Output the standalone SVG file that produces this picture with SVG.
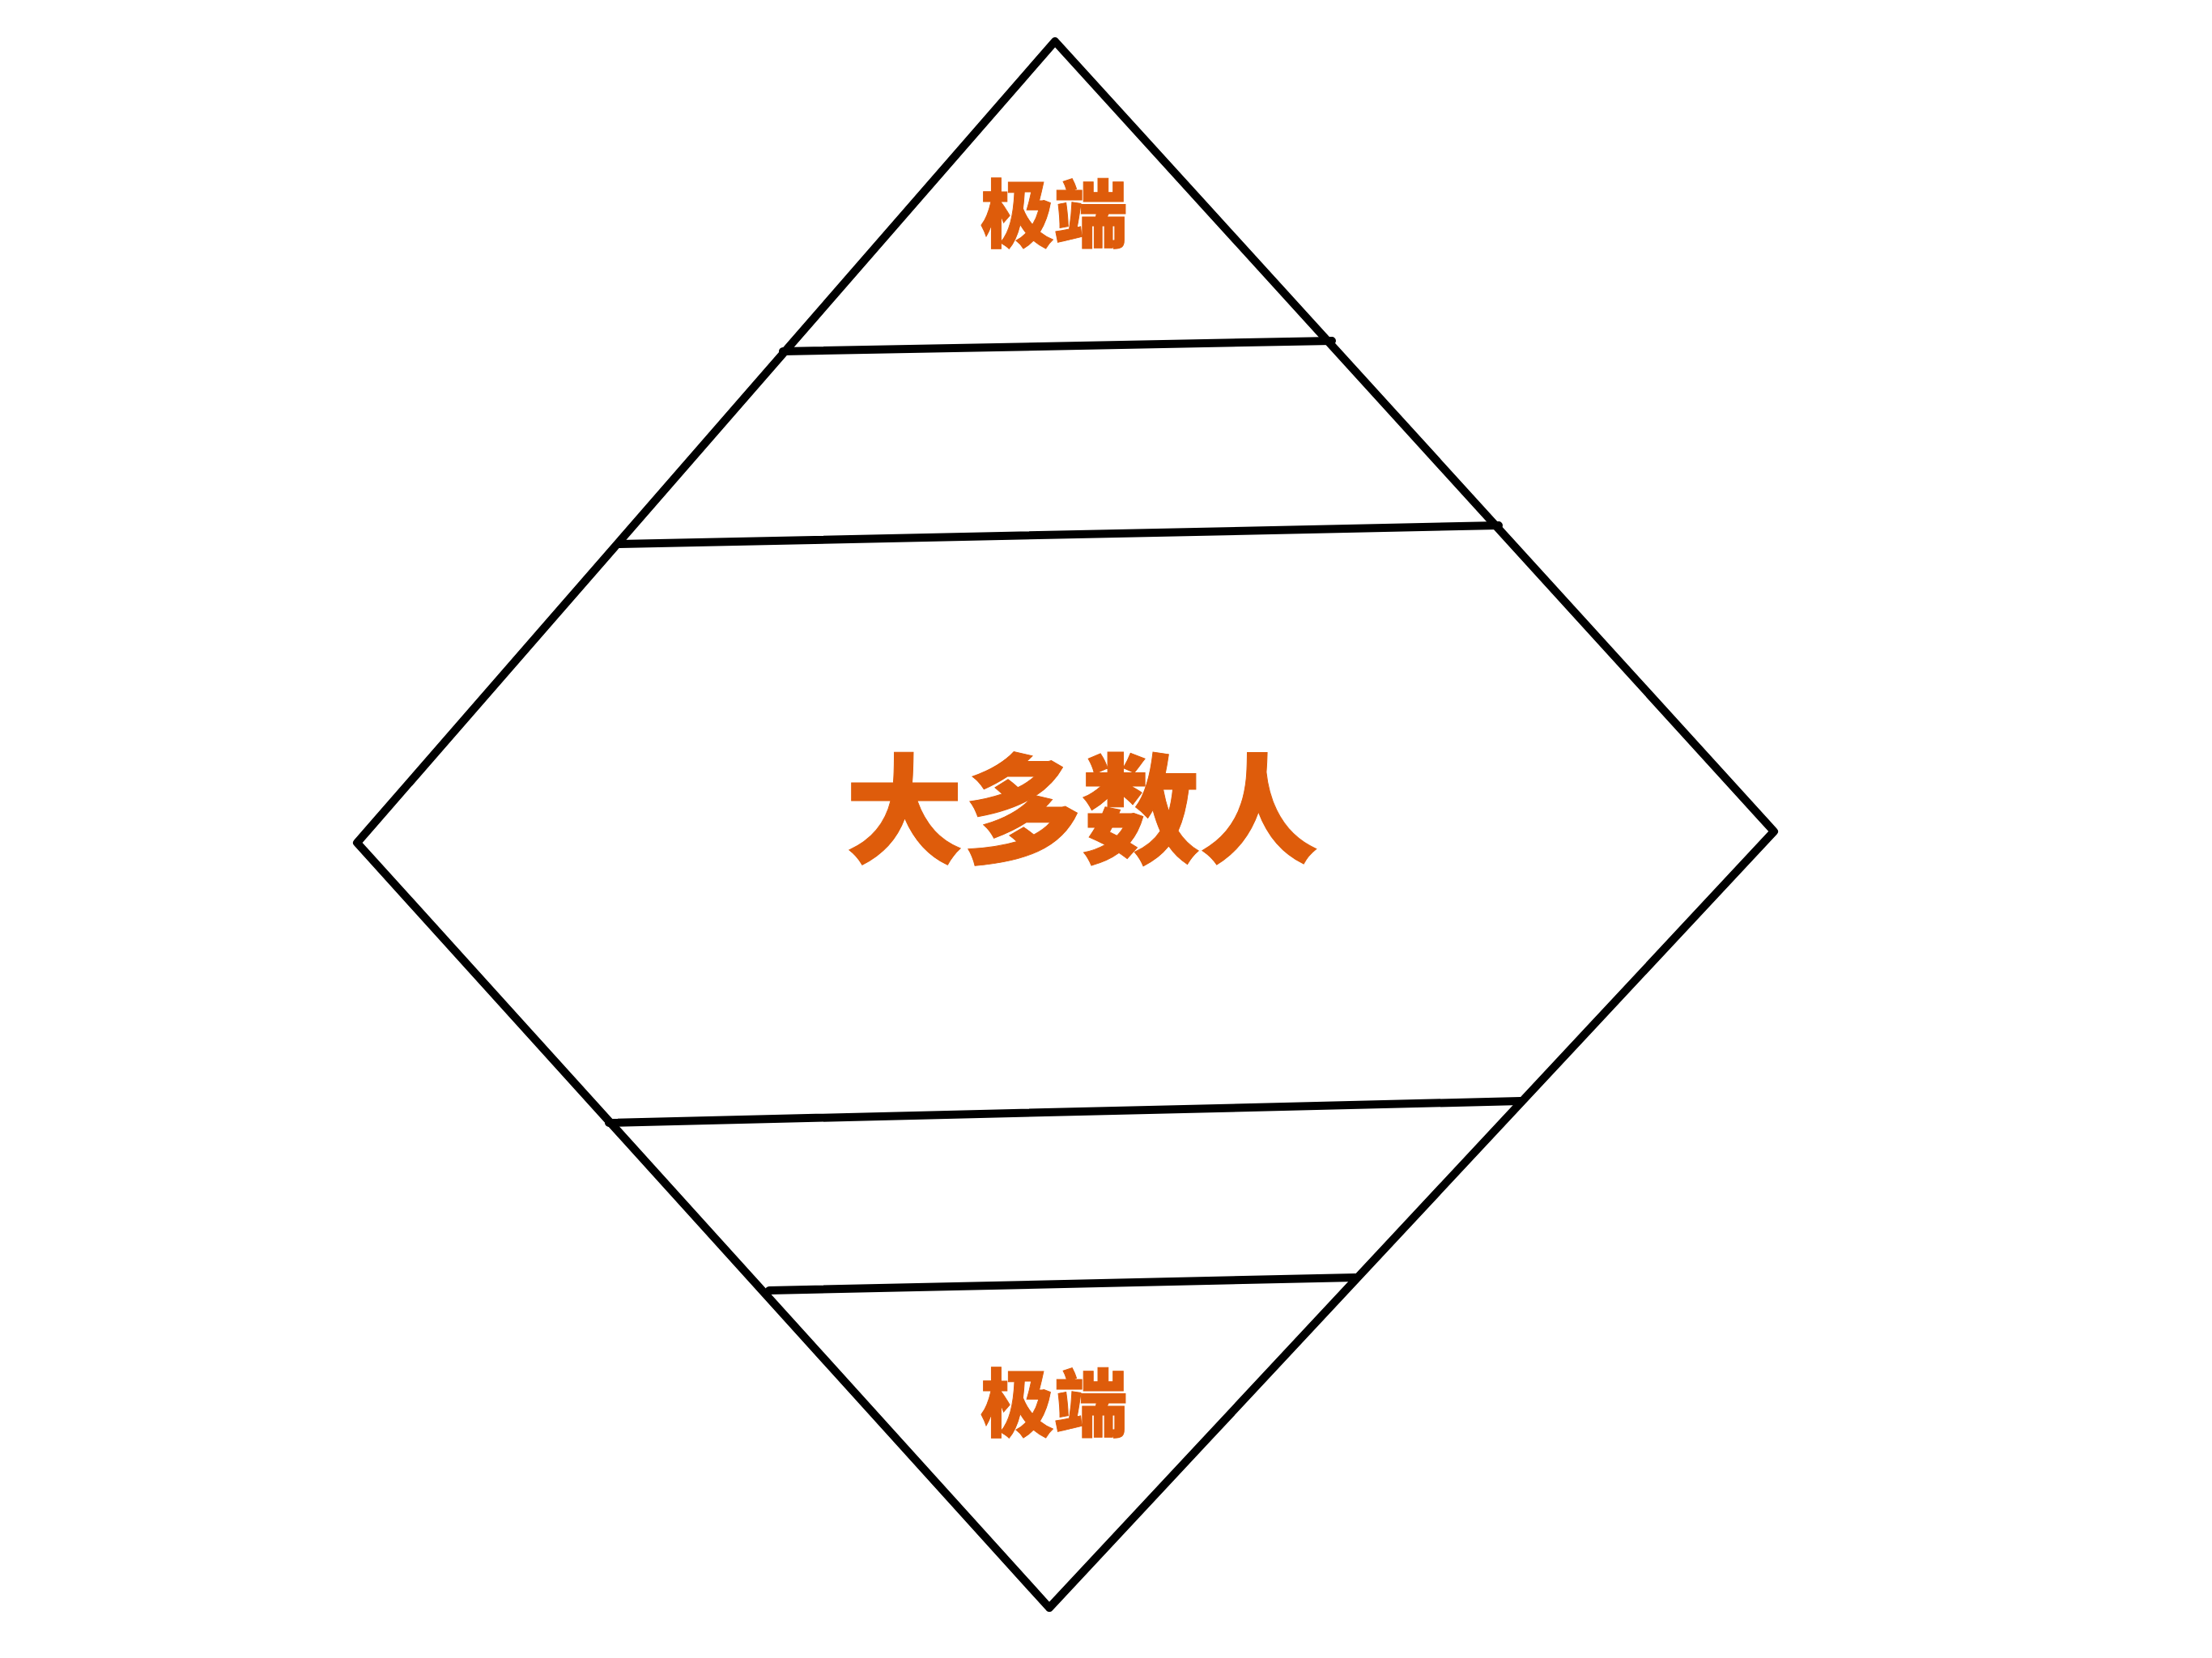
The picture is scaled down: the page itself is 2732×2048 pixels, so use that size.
<svg xmlns="http://www.w3.org/2000/svg" width="2732" height="2048" viewBox="0 0 2732 2048">
<style>
.edge{fill:none;stroke:#000;stroke-width:10;stroke-linejoin:round;stroke-linecap:round}
.lbl{font-family:"Noto Sans CJK SC","Noto Sans CJK JP",sans-serif;font-weight:900;fill:#DE5C0B;stroke:#DE5C0B;stroke-width:1;text-anchor:middle}
</style>
<rect width="2732" height="2048" fill="#fff"/>
<g id="diamond">
<polygon class="edge" points="1303,51 2191,1027 1296,1986 441,1041"/>
</g>
<g id="connectors">
<line class="edge" x1="967" y1="434" x2="1645" y2="421"/>
<line class="edge" x1="765" y1="672" x2="1851" y2="649"/>
<line class="edge" x1="752" y1="1387" x2="1878" y2="1360"/>
<line class="edge" x1="950" y1="1594" x2="1674" y2="1578"/>
</g>
<g id="top-extreme">
<text class="lbl" x="1302" y="298" font-size="91">极端</text>
</g>
<g id="majority">
<text class="lbl" x="1336" y="1054" font-size="146">大多数人</text>
</g>
<g id="bottom-extreme">
<text class="lbl" x="1302" y="1767" font-size="91">极端</text>
</g>
</svg>
